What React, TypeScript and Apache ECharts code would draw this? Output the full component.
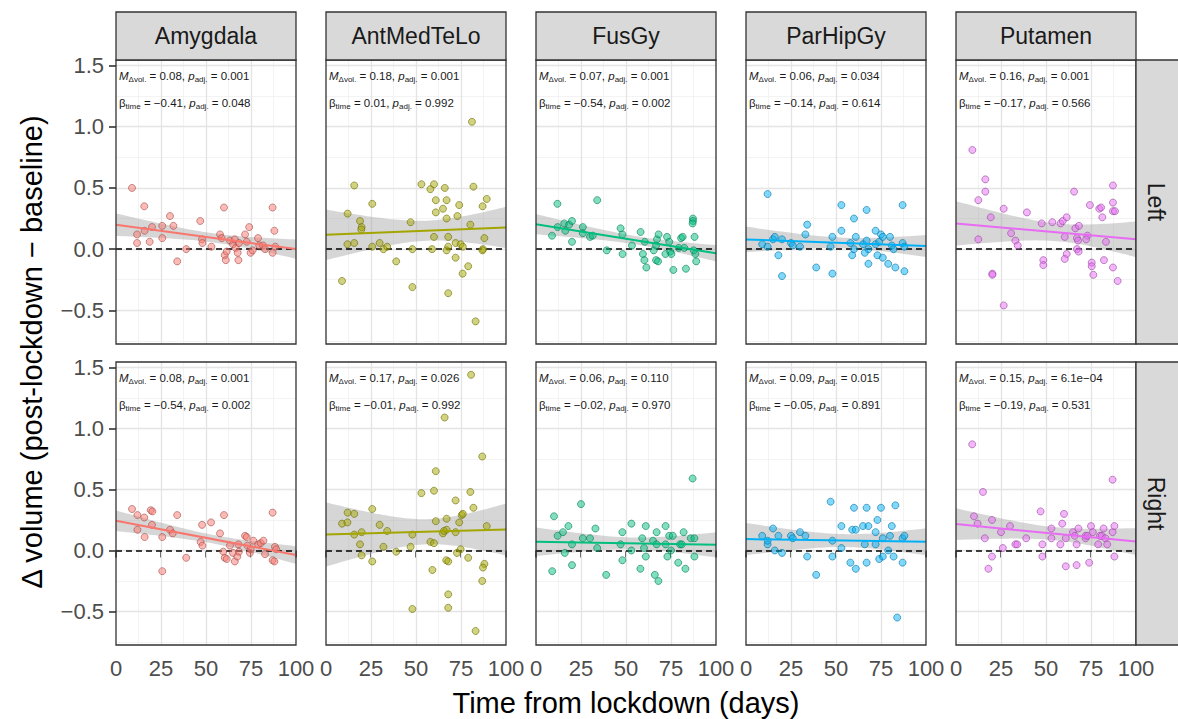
import React, { useEffect, useRef } from "react";
import * as echarts from "echarts";

const regions = ["Amygdala", "AntMedTeLo", "FusGy", "ParHipGy", "Putamen"];
const hemispheres = ["Left", "Right"];
const colors = ["#F8766D", "#A3A500", "#00BF7D", "#00B0F6", "#E76BF3"];
const xMajorGrid = [25, 50, 75];
const xMinorGrid = [12.5, 37.5, 62.5, 87.5];
const yTicks = [-0.5, 0, 0.5, 1, 1.5];
const yMinorGrid = [-0.75, -0.25, 0.25, 0.75, 1.25];
const yMin = -0.775;
const yMax = 1.545;

// stats labels [left row, right row]
const mLeft = ["0.08", "0.18", "0.07", "0.06", "0.16"];
const pmLeft = ["0.001", "0.001", "0.001", "0.034", "0.001"];
const betaLeft = ["−0.41", "0.01", "−0.54", "−0.14", "−0.17"];
const pbLeft = ["0.048", "0.992", "0.002", "0.614", "0.566"];
const mRight = ["0.08", "0.17", "0.06", "0.09", "0.15"];
const pmRight = ["0.001", "0.026", "0.110", "0.015", "6.1e−04"];
const betaRight = ["−0.54", "−0.01", "−0.02", "−0.05", "−0.19"];
const pbRight = ["0.002", "0.992", "0.970", "0.891", "0.531"];

// points: [days, delta volume]
const amygdalaLeft = [[8.9,0.5],[15.7,0.35],[11.7,0.12],[11.7,0.05],[15.9,0.15],[18.7,0.06],[20,0.18],[25.7,0.19],[25.7,0.09],[30,0.27],[31.9,0.19],[34,-0.1],[39,0.0],[46.8,0.23],[47.8,0.08],[48,0.05],[53,0.02],[57.8,0.12],[58.7,0.09],[60,0.34],[60.4,-0.05],[61,-0.09],[61.5,-0.02],[63.3,0.07],[65,0.04],[66,0.08],[66.5,0.01],[67.6,-0.03],[68,-0.09],[68.3,0.05],[71.7,0.12],[74,0.18],[72.6,0.06],[74.8,-0.03],[75.9,-0.01],[78.9,0.09],[79.6,0.03],[81.7,0.03],[82.8,0.0],[87,0.34],[88,0.15],[87,-0.03],[88.5,0.02]];
const amygdalaRight = [[8.9,0.34],[11.9,0.29],[11.9,0.17],[15.7,0.27],[15.9,0.11],[19.3,0.33],[20.2,0.32],[20,0.21],[25.7,0.11],[25.7,-0.17],[30,0.17],[31.5,0.14],[34,0.29],[39,-0.06],[47.8,0.21],[47,0.07],[48,0.04],[52.8,0.23],[57.8,0.14],[60,0.29],[59.6,-0.01],[60.4,-0.06],[61.5,-0.07],[63.3,0.04],[65,-0.02],[66,-0.09],[67.4,-0.05],[68,0.05],[68.3,-0.01],[71.7,0.12],[72.6,0.11],[73,0.04],[74.4,-0.02],[74.8,0.01],[76.3,0.08],[79,0.05],[80.4,0.06],[81.9,0.08],[82.8,-0.03],[87,0.31],[87,-0.08],[88,-0.09],[88.3,0.03],[89,0.01]];
const antMedTeLoLeft = [[81.1,1.04],[15.7,0.52],[25.7,0.37],[12,0.29],[18.9,0.23],[19.8,0.18],[19.6,0.16],[11.9,0.04],[15.7,0.05],[25.7,0.02],[29.8,0.05],[31.9,0.0],[34,0.02],[8.9,-0.26],[39,-0.1],[47,0.22],[48,0.0],[48,-0.31],[53,0.53],[58,0.49],[60,0.53],[66,0.5],[61,0.4],[67,0.4],[65,0.33],[61,0.3],[67,0.25],[74,0.36],[73,0.27],[80.2,0.2],[81.9,0.51],[87,0.35],[89.3,0.41],[60,0.1],[58.9,0.0],[67.9,0.1],[67.9,0.02],[67,-0.01],[72,0.05],[74.8,0.04],[76,0.02],[72,-0.07],[79,-0.14],[75.9,-0.2],[67.9,-0.36],[83.1,-0.59],[88,0.09],[87.2,0.0],[86.9,-0.01]];
const antMedTeLoRight = [[80.6,1.44],[65.9,1.09],[86.8,0.77],[61,0.65],[53,0.47],[60,0.49],[72,0.41],[80.2,0.48],[81.9,0.35],[25.7,0.34],[12,0.31],[15.7,0.3],[8.9,0.22],[11.9,0.23],[29.8,0.21],[34,0.16],[19.8,0.15],[15.7,0.13],[18.9,0.05],[19.8,-0.04],[25.7,-0.09],[31.9,0.03],[39,-0.01],[47,0.03],[48,0.13],[48,-0.48],[58,0.07],[60,0.06],[59.1,-0.16],[61,0.24],[67,0.26],[65,0.14],[67,0.17],[72,0.15],[74,0.23],[75.4,0.29],[76,0.3],[74.8,0.01],[72.8,-0.02],[66.8,-0.08],[67.9,-0.09],[67.9,-0.36],[67.9,-0.47],[79,-0.06],[89.3,0.2],[88,-0.11],[87.2,-0.14],[86.8,-0.25],[83.1,-0.66],[65.5,0.16]];
const fusGyLeft = [[11.9,0.37],[34,0.4],[8.9,0.11],[12,0.18],[15.7,0.21],[16.3,0.15],[18.4,0.2],[20,0.23],[20,0.06],[26,0.18],[26,0.13],[30,0.1],[31.5,0.11],[39.3,-0.01],[47,0.17],[48,0.12],[48.1,-0.04],[53.3,0.03],[58.1,0.14],[60.4,0.06],[59.4,-0.04],[60.2,-0.09],[61.3,-0.15],[65.4,-0.01],[66.7,0.03],[67.2,0.08],[68.1,0.12],[66.7,-0.09],[67.8,-0.1],[71.9,-0.04],[72.8,0.1],[74,0.06],[74.6,-0.02],[75.2,-0.04],[76.3,-0.17],[79.3,0.01],[80.6,0.09],[81.5,0.1],[83.3,-0.16],[82.4,0.01],[87.2,0.25],[87.2,0.23],[87,0.21],[88.1,0.1],[87.6,-0.01],[88.5,-0.04],[89,-0.1]];
const fusGyRight = [[9,-0.17],[10,0.28],[12,0.12],[15,0.15],[16,-0.02],[18,0.2],[20,0.05],[20,-0.12],[25,0.38],[26,0.1],[30,0.1],[33,0.18],[34,0.02],[39,-0.2],[47,0.05],[48,0.15],[48,-0.08],[53,0.22],[53,0.0],[58,-0.15],[59,0.1],[60,0.02],[61,-0.05],[61,0.2],[65,0.08],[66,-0.2],[67,0.05],[67,0.15],[68,-0.25],[72,0.05],[72,0.2],[73,-0.05],[74,0.12],[75,0.0],[76,0.12],[79,-0.1],[80,0.05],[81,0.05],[82,0.15],[83,-0.15],[86,0.1],[87,0.59],[88,-0.05],[88,0.1]];
const parHipGyLeft = [[9,0.04],[12,0.45],[12,0.02],[15,0.08],[16,0.1],[18,-0.05],[20,0.08],[20,-0.22],[25,0.05],[26,0.03],[30,0.02],[33,0.12],[34,0.2],[39,-0.15],[47,0.02],[48,0.1],[48,-0.2],[53,0.36],[53,0.15],[58,0.05],[59,-0.05],[60,0.25],[60,0.0],[61,0.1],[65,0.04],[66,-0.03],[67,0.32],[67,0.07],[68,0.0],[68,-0.12],[72,0.15],[72,0.04],[73,-0.05],[74,0.06],[75,0.12],[76,0.1],[76,-0.07],[79,-0.12],[80,0.1],[81,0.03],[82,0.0],[83,-0.15],[87,0.36],[87,0.05],[88,-0.18],[88,0.02]];
const parHipGyRight = [[9,0.12],[12,0.05],[12,0.08],[15,0.18],[16,0.0],[18,0.12],[20,-0.02],[25,0.12],[26,0.1],[30,0.15],[33,0.12],[34,-0.05],[39,-0.2],[47,0.4],[48,0.08],[48,-0.05],[53,0.2],[53,0.02],[58,-0.1],[59,0.17],[60,0.35],[61,0.17],[61,-0.15],[65,0.2],[66,0.05],[67,0.35],[67,-0.1],[68,0.2],[72,0.15],[72,0.05],[73,0.25],[74,-0.07],[75,0.35],[76,0.1],[76,-0.05],[79,0.0],[80,0.12],[81,0.2],[82,-0.05],[83,0.37],[84,-0.55],[87,0.1],[87,-0.1],[88,0.12]];
const putamenLeft = [[9.1,0.81],[16.3,0.57],[16.3,0.47],[12.4,0.4],[19.3,0.26],[12.4,0.08],[20.2,-0.2],[20.2,-0.21],[26.5,0.33],[26.5,-0.46],[30.6,0.13],[33,0.07],[34.3,0.03],[39.4,0.3],[47.6,0.21],[48.5,-0.09],[48.5,-0.13],[53.5,0.22],[58.1,0.21],[59.3,0.23],[61.5,0.26],[60.4,0.1],[65.6,0.47],[66.3,0.17],[68.3,0.19],[67.2,0.09],[67.8,0.07],[73,0.11],[72.3,0.08],[67.2,0.0],[68.1,-0.02],[61.5,-0.04],[60.4,-0.08],[74.4,0.36],[79.6,0.33],[80.6,0.34],[81.3,0.26],[83.3,0.06],[75.4,-0.11],[75.4,-0.14],[76.3,-0.21],[82.2,-0.09],[87.2,0.52],[87.2,0.38],[87.2,0.31],[88.3,0.31],[87.2,-0.15],[89.8,-0.26]];
const putamenRight = [[9,0.87],[10,0.28],[12,0.22],[15,0.48],[16,0.1],[18,-0.15],[20,0.25],[20,-0.05],[25,0.15],[26,0.02],[30,0.2],[33,0.05],[34,0.05],[39,0.1],[47,0.32],[48,0.05],[48,-0.05],[53,0.1],[53,0.18],[58,0.05],[59,0.22],[60,0.3],[61,-0.13],[61,0.1],[65,0.15],[66,0.12],[67,-0.12],[67,0.05],[68,0.18],[72,0.12],[72,0.1],[73,0.12],[74,-0.1],[75,0.2],[76,0.15],[79,0.05],[80,0.12],[81,0.12],[82,0.18],[83,0.1],[84,0.05],[87,0.58],[87,0.15],[88,0.2],[88,-0.05]];

const panelData = [
  [amygdalaLeft, antMedTeLoLeft, fusGyLeft, parHipGyLeft, putamenLeft],
  [amygdalaRight, antMedTeLoRight, fusGyRight, parHipGyRight, putamenRight],
];

const FONT = "'Liberation Sans', Arial, Helvetica, sans-serif";

function hexToRgb(h: string) {
  const v = parseInt(h.slice(1), 16);
  return [(v >> 16) & 255, (v >> 8) & 255, v & 255];
}

function lmFit(pts: number[][]) {
  const n = pts.length;
  let sx = 0, sy = 0;
  pts.forEach(([x, y]) => { sx += x; sy += y; });
  const xb = sx / n, yb = sy / n;
  let sxx = 0, sxy = 0;
  pts.forEach(([x, y]) => { sxx += (x - xb) ** 2; sxy += (x - xb) * (y - yb); });
  const b = sxy / sxx;
  const a = yb - b * xb;
  let sse = 0;
  pts.forEach(([x, y]) => { sse += (y - a - b * x) ** 2; });
  const s = Math.sqrt(sse / (n - 2));
  const t = 2.015;
  return { a, b, xb, sxx, n, s, t };
}

export default function App() {
  const ref = useRef<HTMLDivElement>(null);
  useEffect(() => {
    if (!ref.current) return;
    const chart = echarts.init(ref.current, null, { renderer: "svg" });
    const grids: any[] = [];
    const xAxes: any[] = [];
    const yAxes: any[] = [];
    const series: any[] = [];
    const graphics: any[] = [];

    for (let r = 0; r < 2; r++) {
      for (let c = 0; c < 5; c++) {
        const i = r * 5 + c;
        const left = 116 + 210 * c;
        const top = r === 0 ? 60 : 362;
        const height = r === 0 ? 284 : 283;
        grids.push({ left, top, width: 180, height, show: true, borderColor: "#333", borderWidth: 1.3, backgroundColor: "transparent", z: 10 });
        xAxes.push({
          type: "value", gridIndex: i, min: 0, max: 100, interval: 25,
          axisLine: { show: false },
          axisTick: { show: r === 1, length: 7, lineStyle: { color: "#333", width: 1.6 } },
          axisLabel: { show: r === 1, fontSize: 22, color: "#4d4d4d", margin: 12, fontFamily: FONT },
          splitLine: { show: false },
        });
        yAxes.push({
          type: "value", gridIndex: i, min: yMin, max: yMax,
          axisLine: { show: false },
          axisTick: { show: c === 0, length: 7, customValues: yTicks, lineStyle: { color: "#333", width: 1.6 } },
          axisLabel: {
            show: c === 0, customValues: yTicks, fontSize: 22, color: "#4d4d4d", margin: 12, fontFamily: FONT,
            formatter: (v: number) => (v < 0 ? "−" : "") + Math.abs(v).toFixed(1),
          },
          splitLine: { show: false },
        });

        const major = { color: "#e4e4e4", width: 1.3, type: "solid" };
        const minor = { color: "#f0f0f0", width: 0.8, type: "solid" };
        const gl: any[] = [];
        xMinorGrid.forEach((v) => gl.push({ xAxis: v, lineStyle: minor }));
        yMinorGrid.forEach((v) => gl.push({ yAxis: v, lineStyle: minor }));
        xMajorGrid.forEach((v) => gl.push({ xAxis: v, lineStyle: major }));
        yTicks.forEach((v) => gl.push({ yAxis: v, lineStyle: major }));
        series.push({
          type: "line", xAxisIndex: i, yAxisIndex: i, data: [], z: 1, silent: true,
          markLine: { silent: true, z: 1, symbol: ["none", "none"], label: { show: false }, data: gl },
        });

        const pts = panelData[r][c];
        const f = lmFit(pts);
        const bandX: number[] = [];
        for (let x = 0; x <= 100; x += 2) bandX.push(x);
        const se = (x: number) => f.t * f.s * Math.sqrt(1 / f.n + (x - f.xb) ** 2 / f.sxx);
        const upper = bandX.map((x) => [x, f.a + f.b * x + se(x)]);
        const lower = bandX.map((x) => [x, f.a + f.b * x - se(x)]);
        series.push({
          type: "custom", xAxisIndex: i, yAxisIndex: i, z: 2, silent: true,
          data: [[0, 0]],
          renderItem: (_p: any, api: any) => {
            const poly = upper.map((p) => api.coord(p)).concat(lower.slice().reverse().map((p) => api.coord(p)));
            return { type: "polygon", shape: { points: poly }, style: { fill: "rgba(153,153,153,0.4)" } };
          },
        });
        series.push({
          type: "line", xAxisIndex: i, yAxisIndex: i, data: [], z: 3, silent: true,
          markLine: {
            silent: true, z: 3, symbol: ["none", "none"], label: { show: false },
            data: [{ yAxis: 0, lineStyle: { color: "#000", width: 1.6, type: [6, 4] } }],
          },
        });
        const [cr, cg, cb] = hexToRgb(colors[c]);
        series.push({
          type: "scatter", xAxisIndex: i, yAxisIndex: i, z: 4, data: pts, symbolSize: 7,
          itemStyle: {
            color: `rgba(${cr},${cg},${cb},0.62)`,
            borderColor: `rgba(${Math.round(cr * 0.65)},${Math.round(cg * 0.65)},${Math.round(cb * 0.65)},0.75)`,
            borderWidth: 1,
          },
        });
        series.push({
          type: "line", xAxisIndex: i, yAxisIndex: i, z: 5, showSymbol: false, silent: true,
          data: [[0, f.a], [100, f.a + f.b * 100]],
          lineStyle: { color: colors[c], width: 2 },
        });

        const m = r === 0 ? mLeft[c] : mRight[c];
        const pm = r === 0 ? pmLeft[c] : pmRight[c];
        const be = r === 0 ? betaLeft[c] : betaRight[c];
        const pb = r === 0 ? pbLeft[c] : pbRight[c];
        const rich = {
          n: { fontSize: 11.5, fill: "#1a1a1a", fontFamily: FONT, lineHeight: 14 },
          it: { fontSize: 11.5, fill: "#1a1a1a", fontFamily: FONT, fontStyle: "italic", lineHeight: 14 },
          sub: { fontSize: 8, fill: "#1a1a1a", fontFamily: FONT, lineHeight: 14, verticalAlign: "bottom", padding: [5, 0, 0, 0] },
        };
        graphics.push({
          type: "text", x: left + 3, y: top + 16, z: 20,
          style: { text: `{it|M}{sub|Δvol.}{n| = ${m}, }{it|p}{sub|adj.}{n| = ${pm}}`, rich, verticalAlign: "middle", align: "left" },
        });
        graphics.push({
          type: "text", x: left + 3, y: top + 43, z: 20,
          style: { text: `{n|β}{sub|time}{n| = ${be}, }{it|p}{sub|adj.}{n| = ${pb}}`, rich, verticalAlign: "middle", align: "left" },
        });
      }
    }

    // top strips
    regions.forEach((name, c) => {
      const left = 116 + 210 * c;
      graphics.push({ type: "rect", shape: { x: left, y: 12, width: 180, height: 48 }, style: { fill: "#d9d9d9", stroke: "#333", lineWidth: 1.3 }, z: 20 });
      graphics.push({ type: "text", x: left + 90, y: 36, z: 21, style: { text: name, fontSize: 23, fontFamily: FONT, fill: "#1a1a1a", align: "center", verticalAlign: "middle" } });
    });
    // right strips
    hemispheres.forEach((name, r) => {
      const top = r === 0 ? 60 : 362;
      const height = r === 0 ? 284 : 283;
      graphics.push({ type: "rect", shape: { x: 1136, y: top, width: 60, height }, style: { fill: "#d9d9d9", stroke: "#333", lineWidth: 1.3 }, z: 20 });
      graphics.push({ type: "text", x: 1156, y: top + height / 2, rotation: -Math.PI / 2, z: 21, style: { text: name, fontSize: 23, fontFamily: FONT, fill: "#1a1a1a", align: "center", verticalAlign: "middle" } });
    });
    // axis titles
    graphics.push({ type: "text", x: 626, y: 703, z: 21, style: { text: "Time from lockdown (days)", fontSize: 29, fontFamily: FONT, fill: "#000", align: "center", verticalAlign: "middle" } });
    graphics.push({ type: "text", x: 32, y: 352, rotation: Math.PI / 2, z: 21, style: { text: "Δ volume (post-lockdown − baseline)", fontSize: 29, fontFamily: FONT, fill: "#000", align: "center", verticalAlign: "middle" } });

    chart.setOption({
      animation: false,
      backgroundColor: "#fff",
      grid: grids,
      xAxis: xAxes,
      yAxis: yAxes,
      series,
      graphic: graphics,
    });
    return () => chart.dispose();
  }, []);
  return <div ref={ref} style={{ position: "fixed", left: 0, top: 0, width: 1178, height: 719, background: "#fff" }} />;
}
